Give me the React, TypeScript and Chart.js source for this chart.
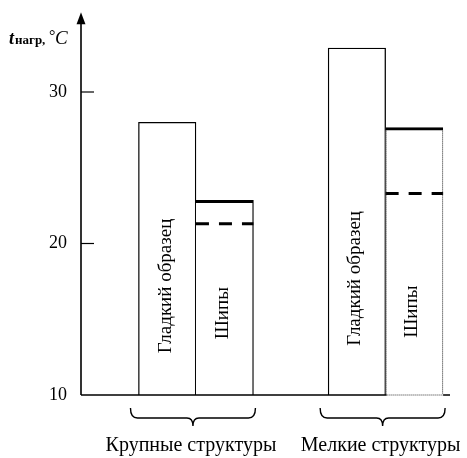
import React, { useEffect, useRef } from 'react';
import { Chart, registerables } from 'chart.js';

Chart.register(...registerables);

// ---- data ----
const groupLabels = ['Крупные структуры', 'Мелкие структуры'];
const barLabels = ['Гладкий образец', 'Шипы'];
const smoothValues = [28.0, 32.9];
const spikeValues = [22.85, 27.65];
const spikeDashedValues = [21.3, 23.3];
const yTickValues = [10, 20, 30];
const smoothLabelAt = [17.2, 17.7];
const spikeLabelAt = [15.4, 15.5];

const GROUP_STEP = 3.3;
const SERIF = '"Liberation Serif", "Times New Roman", serif';

const decorPlugin = {
  id: 'decor',
  afterDatasetsDraw(chart: any) {
    const { ctx, chartArea: ca, scales } = chart;
    const y = scales.y;
    const smoothMeta = chart.getDatasetMeta(0);
    const spikeMeta = chart.getDatasetMeta(1);
    ctx.save();

    // dotted sides for second spike bar
    spikeMeta.data.forEach((bar: any, i: number) => {
      if (i !== 1) return;
      const p = bar.getProps(['x', 'y', 'base', 'width'], true);
      const l = p.x - p.width / 2 + 0.5;
      const r = p.x + p.width / 2 - 0.5;
      const b = Math.min(p.base, ca.bottom);
      ctx.strokeStyle = '#222';
      ctx.lineWidth = 1;
      ctx.setLineDash([1, 1]);
      ctx.beginPath();
      ctx.moveTo(l, p.y + 3);
      ctx.lineTo(l, b);
      ctx.moveTo(r, p.y + 3);
      ctx.lineTo(r, b);
      ctx.stroke();
      ctx.setLineDash([]);
    });

    // axes
    ctx.strokeStyle = '#000';
    ctx.fillStyle = '#000';
    ctx.lineWidth = 1.6;
    ctx.beginPath();
    ctx.moveTo(ca.left, ca.bottom);
    ctx.lineTo(ca.right, ca.bottom);
    ctx.moveTo(ca.left, ca.bottom);
    ctx.lineTo(ca.left, ca.top + 4);
    ctx.stroke();
    // arrow head
    ctx.beginPath();
    ctx.moveTo(ca.left, ca.top - 4);
    ctx.lineTo(ca.left - 4.5, ca.top + 8);
    ctx.lineTo(ca.left + 4.5, ca.top + 8);
    ctx.closePath();
    ctx.fill();
    // tick marks (inward)
    ctx.lineWidth = 1.2;
    yTickValues.forEach((v) => {
      const py = y.getPixelForValue(v);
      if (Math.abs(py - ca.bottom) < 1) return;
      ctx.beginPath();
      ctx.moveTo(ca.left, py);
      ctx.lineTo(ca.left + 13, py);
      ctx.stroke();
    });

    // dotted bottom under second spike bar
    spikeMeta.data.forEach((bar: any, i: number) => {
      if (i !== 1) return;
      const p = bar.getProps(['x', 'width'], true);
      const l = p.x - p.width / 2;
      const r = p.x + p.width / 2;
      ctx.fillStyle = '#fff';
      ctx.fillRect(l + 1, ca.bottom - 1.2, r - l - 1, 2.4);
      ctx.strokeStyle = '#333';
      ctx.lineWidth = 1;
      ctx.setLineDash([1, 1]);
      ctx.beginPath();
      ctx.moveTo(l + 1, ca.bottom);
      ctx.lineTo(r, ca.bottom);
      ctx.stroke();
      ctx.setLineDash([]);
    });

    // rotated bar labels
    ctx.fillStyle = '#000';
    ctx.font = `19px ${SERIF}`;
    ctx.textAlign = 'center';
    ctx.textBaseline = 'middle';
    smoothMeta.data.forEach((bar: any, i: number) => {
      const p = bar.getProps(['x'], true);
      ctx.save();
      ctx.translate(p.x - 1.5, y.getPixelForValue(smoothLabelAt[i]));
      ctx.rotate(-Math.PI / 2);
      ctx.fillText(barLabels[0], 0, 0);
      ctx.restore();
    });
    spikeMeta.data.forEach((bar: any, i: number) => {
      const p = bar.getProps(['x'], true);
      ctx.save();
      ctx.translate(p.x - 2, y.getPixelForValue(spikeLabelAt[i]));
      ctx.rotate(-Math.PI / 2);
      ctx.fillText(barLabels[1], 0, 0);
      ctx.restore();
    });

    // braces and group labels
    ctx.strokeStyle = '#000';
    ctx.lineWidth = 1.4;
    groupLabels.forEach((label, i) => {
      const s = smoothMeta.data[i].getProps(['x', 'width'], true);
      const k = spikeMeta.data[i].getProps(['x', 'width'], true);
      const L = s.x - s.width / 2 - 8;
      const R = k.x + k.width / 2 + 2;
      const C = (L + R) / 2;
      const top = ca.bottom + 13;
      const mid = ca.bottom + 23;
      const tip = ca.bottom + 31;
      ctx.beginPath();
      ctx.moveTo(L, top);
      ctx.quadraticCurveTo(L, mid, L + 7, mid);
      ctx.lineTo(C - 6, mid);
      ctx.quadraticCurveTo(C, mid, C, tip);
      ctx.quadraticCurveTo(C, mid, C + 6, mid);
      ctx.lineTo(R - 7, mid);
      ctx.quadraticCurveTo(R, mid, R, top);
      ctx.stroke();

      ctx.font = `20px ${SERIF}`;
      ctx.textAlign = 'center';
      ctx.textBaseline = 'alphabetic';
      ctx.fillText(label, C - 2, ca.bottom + 56);
    });

    // y title: t_нагр, °C
    ctx.textAlign = 'left';
    ctx.textBaseline = 'alphabetic';
    const base = 44;
    ctx.font = `bold italic 18px ${SERIF}`;
    ctx.fillText('t', 9, base);
    ctx.font = `bold 13px ${SERIF}`;
    ctx.fillText('нагр,', 15, base);
    ctx.font = `16px ${SERIF}`;
    ctx.fillText('°', 49, base - 3);
    ctx.font = `italic 19px ${SERIF}`;
    ctx.fillText('C', 55, base);

    ctx.restore();
  },
};

export default function App() {
  const ref = useRef<HTMLCanvasElement | null>(null);

  useEffect(() => {
    document.body.style.margin = '0';
    const canvas = ref.current;
    if (!canvas) return;

    const smoothData = smoothValues.map((v, i) => ({ x: i * GROUP_STEP - 0.5, y: v }));
    const spikeData = spikeValues.map((v, i) => ({ x: i * GROUP_STEP + 0.5, y: v }));
    const dashedData: any[] = [];
    spikeDashedValues.forEach((v, i) => {
      dashedData.push({ x: i * GROUP_STEP, y: v });
      dashedData.push({ x: i * GROUP_STEP + 1, y: v });
      dashedData.push({ x: i * GROUP_STEP + 1.5, y: null });
    });

    const chart = new Chart(canvas, {
      type: 'bar',
      data: {
        datasets: [
          {
            type: 'bar',
            label: barLabels[0],
            data: smoothData,
            backgroundColor: '#fff',
            borderColor: '#000',
            borderWidth: 1.3,
            borderSkipped: 'start',
            grouped: false,
            base: 10,
            barPercentage: 1,
            categoryPercentage: 1,
            order: 2,
          } as any,
          {
            type: 'bar',
            label: barLabels[1],
            data: spikeData,
            backgroundColor: '#fff',
            borderColor: '#000',
            borderWidth: (c: any) =>
              c.dataIndex === 0
                ? { top: 3, left: 0, right: 1.3, bottom: 0 }
                : { top: 3, left: 0, right: 0, bottom: 0 },
            borderSkipped: false,
            grouped: false,
            base: 10,
            barPercentage: 1,
            categoryPercentage: 1,
            order: 1,
          } as any,
          {
            type: 'line',
            label: 'dashed',
            data: dashedData,
            borderColor: '#000',
            borderWidth: 3,
            borderDash: [13, 10],
            borderCapStyle: 'butt',
            pointRadius: 0,
            spanGaps: false,
            fill: false,
            order: 0,
          } as any,
        ],
      },
      options: {
        responsive: false,
        animation: false,
        devicePixelRatio: 1,
        layout: { padding: { top: 16.25, right: 17, bottom: 63, left: 0 } },
        plugins: { legend: { display: false }, tooltip: { enabled: false } },
        events: [],
        scales: {
          x: {
            type: 'linear',
            min: -2,
            max: 4.42,
            offset: false,
            display: false,
            ticks: { stepSize: 1, includeBounds: false },
          },
          y: {
            type: 'linear',
            min: 10,
            max: 35,
            afterBuildTicks: (s: any) => {
              s.ticks = yTickValues.map((v) => ({ value: v }));
            },
            afterFit: (s: any) => {
              s.width = 81;
              s.paddingTop = 0;
              s.paddingBottom = 0;
            },
            grid: { display: false, drawTicks: false },
            border: { display: false },
            ticks: {
              padding: 14,
              color: '#000',
              font: { family: SERIF, size: 18 },
            },
          },
        },
      } as any,
      plugins: [decorPlugin],
    });
    return () => chart.destroy();
  }, []);

  return (
    <div style={{ position: 'absolute', left: 0, top: 0, width: 467, height: 458, background: '#fff' }}>
      <canvas ref={ref} width={467} height={458} style={{ display: 'block' }} />
    </div>
  );
}
